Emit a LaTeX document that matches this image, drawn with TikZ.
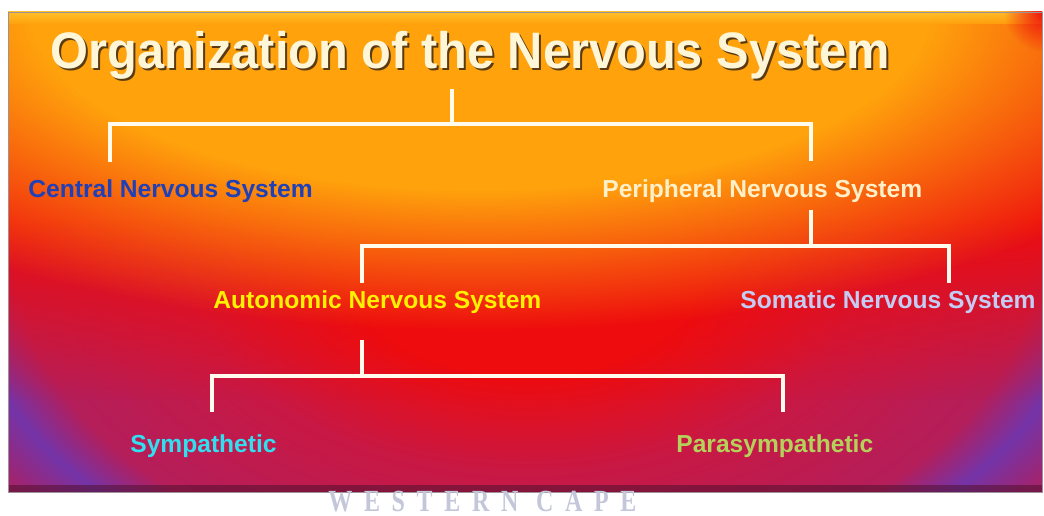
\documentclass[tikz,border=0pt]{standalone}
\usepackage{fontspec}
\setmainfont{Liberation Sans}
\newfontfamily\titlefont[FakeStretch=0.95]{Liberation Sans}
\newfontfamily\markfont[FakeStretch=0.78, LetterSpace=38]{Liberation Serif}
\usetikzlibrary{fadings}

\definecolor{bgorange}{HTML}{FFA20C}
\definecolor{bgtop}{HTML}{FFC830}
\definecolor{bgred}{HTML}{EE0C0E}
\definecolor{bgcrimson}{HTML}{C81844}
\definecolor{bgcrimsondeep}{HTML}{B41E5A}
\definecolor{bgmagenta}{HTML}{A02470}
\definecolor{bgpurple}{HTML}{7434A8}
\definecolor{bgcorner}{HTML}{CC1238}
\definecolor{bgedge}{HTML}{50102E}
\definecolor{framegray}{HTML}{A09098}
\definecolor{linewhite}{HTML}{FFFCEE}
\definecolor{titlecream}{HTML}{FFF6D8}
\definecolor{titleshadow}{HTML}{5A3A10}
\definecolor{cnsblue}{HTML}{2040B8}
\definecolor{pnscream}{HTML}{FFF0C8}
\definecolor{ansyellow}{HTML}{FFF200}
\definecolor{snslilac}{HTML}{C4CCF4}
\definecolor{sympcyan}{HTML}{30E0F0}
\definecolor{paragreen}{HTML}{B4D25A}
\definecolor{markgray}{HTML}{C4C7DA}

% fundo do slide
\pgfdeclareradialshading{slideglow}{\pgfpointorigin}{color(0bp)=(bgred); color(8bp)=(bgred); color(15bp)=(bgcrimson); color(22.5bp)=(bgcrimsondeep); color(25bp)=(bgpurple); color(27.5bp)=(bgmagenta); color(31bp)=(bgcorner); color(50bp)=(bgcorner)}
\pgfdeclareradialshading{orangemask}{\pgfpointorigin}{color(0bp)=(white); color(14bp)=(white); color(25bp)=(black); color(50bp)=(black)}
\pgfdeclarefading{orangefade}{\pgfuseshading{orangemask}}
\tikzfading[name=glowfade, inner color=transparent!0, outer color=transparent!100]
\tikzfading[name=downfade, top color=transparent!0, bottom color=transparent!100]

\begin{document}
\begin{tikzpicture}[x=0.02cm, y=-0.02cm,
    ramo/.style={draw=linewhite, line width=2pt},
    rotulo/.style={font=\fontsize{14}{16}\selectfont\bfseries, inner sep=0pt, anchor=base west},
    titulo/.style={font=\titlefont\fontsize{29.2}{32}\selectfont\bfseries, inner sep=0pt, anchor=base west}
]
\useasboundingbox (0,0) rectangle (1044,516);
\fill[white] (0,0) rectangle (1044,516);

\begin{scope}
\clip (8,12) rectangle (1042,492);
\shade[shading=slideglow] (-39,-95) rectangle (1089,615);
\fill[bgred] (8,12) rectangle (1042,221);
\fill[bgred, path fading=downfade] (8,220) rectangle (1042,400);
\fill[bgorange, path fading=orangefade] (480,10) ellipse [x radius=800, y radius=320];
\shade[top color=bgtop, bottom color=bgorange, opacity=.8] (8,12) rectangle (1042,24);
\fill[bgred, path fading=glowfade] (1044,12) ellipse [x radius=40, y radius=40];
\fill[bgedge, opacity=.55] (8,485) rectangle (1042,492);
\end{scope}
\draw[framegray] (8,12) rectangle (1042,492);

% titulo
\node[titulo, text=titleshadow] (sombra) at (52,71) {Organization of the Nervous System};
\node[titulo, text=titlecream] (titulo) at (50,69) {Organization of the Nervous System};

% rotulos
\node[rotulo, text=cnsblue] (cns) at (28,198) {Central Nervous System};
\node[rotulo, text=pnscream] (pns) at (602,198) {Peripheral Nervous System};
\node[rotulo, text=ansyellow] (ans) at (213,309) {Autonomic Nervous System};
\node[rotulo, text=snslilac] (sns) at (740,309) {Somatic Nervous System};
\node[rotulo, text=sympcyan] (symp) at (130,453) {Sympathetic};
\node[rotulo, text=paragreen] (para) at (676,453) {Parasympathetic};

% pontos dos ramos
\coordinate (t0) at (452,89);
\coordinate (t1) at (452,124);
\coordinate (c0) at (110,162);
\coordinate (p0) at (811,161);
\coordinate (p1) at (811,210);
\coordinate (p2) at (811,246);
\coordinate (a0) at (362,283);
\coordinate (s0) at (949,283);
\coordinate (a1) at (362,340);
\coordinate (a2) at (362,376);
\coordinate (y0) at (212,412);
\coordinate (q0) at (783,412);

\draw[ramo] (t0) -- (t1);
\draw[ramo] (c0) |- (t1) -| (p0);
\draw[ramo] (p1) -- (p2);
\draw[ramo] (a0) |- (p2) -| (s0);
\draw[ramo] (a1) -- (a2);
\draw[ramo] (y0) |- (a2) -| (q0);

\node[font=\markfont\bfseries\fontsize{17.5}{20}\selectfont, text=markgray, inner sep=0pt, anchor=base west] (marca) at (328,511.5) {WESTERN CAPE};
\end{tikzpicture}
\end{document}
